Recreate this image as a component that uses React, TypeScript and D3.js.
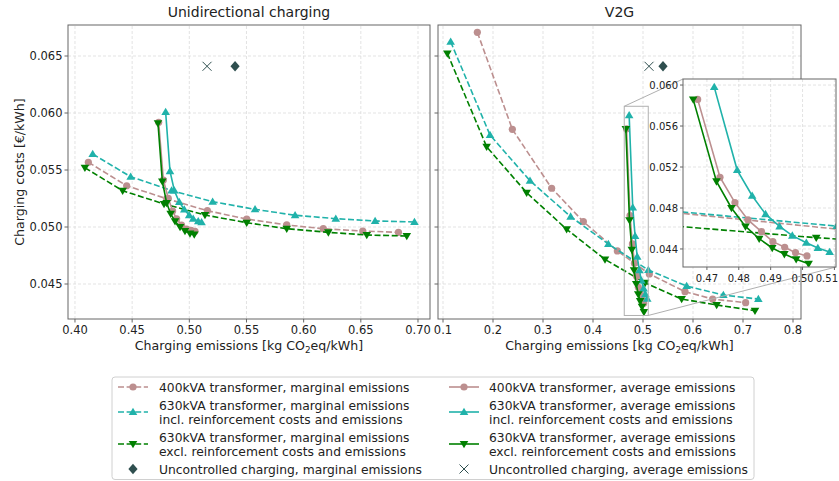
import React from "react";
import * as d3 from "d3";

const W = 839;
const H = 481;
const FONT = "'DejaVu Sans', sans-serif";

// Unidirectional charging, marginal emissions (dashed)
const uniMarg400 = [[0.4117, 0.05568], [0.4452, 0.05362], [0.4802, 0.05248], [0.5158, 0.05143], [0.5502, 0.0507], [0.5852, 0.05018], [0.6172, 0.04985], [0.6517, 0.04965], [0.6829, 0.04953]];
const uniMarg630inc = [[0.4155, 0.0564], [0.4487, 0.05441], [0.4845, 0.0532], [0.5204, 0.05222], [0.5575, 0.05155], [0.5925, 0.05103], [0.6281, 0.05073], [0.6625, 0.05053], [0.6969, 0.05044]];
const uniMarg630exc = [[0.4087, 0.0552], [0.4417, 0.05318], [0.4779, 0.05202], [0.5137, 0.05105], [0.5502, 0.05038], [0.5852, 0.04985], [0.6216, 0.04953], [0.6552, 0.0493], [0.6902, 0.04921]];
// Unidirectional charging, average emissions (solid)
const uniAvg400 = [[0.4732, 0.05918], [0.4773, 0.05412], [0.4816, 0.05252], [0.4854, 0.0514], [0.4889, 0.05072], [0.4932, 0.05016], [0.4976, 0.04982], [0.5015, 0.04971], [0.505, 0.04962]];
const uniAvg630inc = [[0.4793, 0.06008], [0.4831, 0.0549], [0.4869, 0.0532], [0.4912, 0.05219], [0.4956, 0.05153], [0.4999, 0.05104], [0.5034, 0.05073], [0.5078, 0.0505], [0.5107, 0.05041]];
const uniAvg630exc = [[0.4726, 0.0591], [0.4764, 0.054], [0.4802, 0.0521], [0.4837, 0.05117], [0.4875, 0.0505], [0.4919, 0.05], [0.4962, 0.04966], [0.5006, 0.04943], [0.5043, 0.04935]];
const uniUncMarg = [[0.54, 0.0641]];
const uniUncAvg = [[0.5155, 0.0641]];

// V2G, marginal emissions (dashed)
const v2gMarg400 = [[0.1687, 0.06708], [0.2387, 0.05857], [0.3173, 0.0534], [0.3807, 0.05047], [0.4487, 0.0479], [0.5127, 0.04588], [0.584, 0.04433], [0.6393, 0.04368], [0.7053, 0.04336]];
const v2gMarg630inc = [[0.1153, 0.06625], [0.194, 0.05807], [0.274, 0.05406], [0.3553, 0.05091], [0.4307, 0.04851], [0.5107, 0.04623], [0.5873, 0.04482], [0.6607, 0.04403], [0.7307, 0.04368]];
const v2gMarg630exc = [[0.1087, 0.06523], [0.1873, 0.05704], [0.2673, 0.05301], [0.3473, 0.0498], [0.424, 0.04716], [0.5043, 0.0451], [0.5773, 0.04368], [0.6473, 0.04316], [0.724, 0.04266]];
// V2G, average emissions (solid)
const v2gAvg400 = [[0.4671, 0.0586], [0.4741, 0.051], [0.4788, 0.04852], [0.4829, 0.04683], [0.4871, 0.04569], [0.4907, 0.04471], [0.4944, 0.04417], [0.4978, 0.04364], [0.5014, 0.04332]];
const v2gAvg630inc = [[0.4723, 0.0598], [0.4795, 0.0517], [0.4842, 0.0492], [0.4884, 0.0474], [0.4928, 0.0462], [0.4968, 0.0453], [0.5012, 0.0446], [0.5048, 0.0441], [0.5085, 0.0437]];
const v2gAvg630exc = [[0.4657, 0.0586], [0.473, 0.0506], [0.4777, 0.048], [0.4821, 0.0462], [0.4864, 0.045], [0.4905, 0.0441], [0.4943, 0.0435], [0.498, 0.043], [0.5019, 0.04255]];
const v2gUncMarg = [[0.54, 0.0641]];
const v2gUncAvg = [[0.512, 0.0641]];

const uniTicks = [0.4, 0.45, 0.5, 0.55, 0.6, 0.65, 0.7];
const v2gTicks = [0.1, 0.2, 0.3, 0.4, 0.5, 0.6, 0.7, 0.8];
const yTicks = [0.045, 0.05, 0.055, 0.06, 0.065];
const insetXTicks = [0.47, 0.48, 0.49, 0.5, 0.51];
const insetYTicks = [0.044, 0.048, 0.052, 0.056, 0.06];

const legendLabels = [
  ["400kVA transformer, marginal emissions"],
  ["630kVA transformer, marginal emissions", "incl. reinforcement costs and emissions"],
  ["630kVA transformer, marginal emissions", "excl. reinforcement costs and emissions"],
  ["Uncontrolled charging, marginal emissions"],
  ["400kVA transformer, average emissions"],
  ["630kVA transformer, average emissions", "incl. reinforcement costs and emissions"],
  ["630kVA transformer, average emissions", "excl. reinforcement costs and emissions"],
  ["Uncontrolled charging, average emissions"],
];

const PINK = "#bc8f8f";
const TEAL = "#20b2aa";
const GREEN = "#008000";
const SLATE = "#2f4f4f";

// style per legend slot
const styles = [
  { color: PINK, marker: "o", dash: true },
  { color: TEAL, marker: "^", dash: true },
  { color: GREEN, marker: "v", dash: true },
  { color: SLATE, marker: "D", none: true },
  { color: PINK, marker: "o", dash: false },
  { color: TEAL, marker: "^", dash: false },
  { color: GREEN, marker: "v", dash: false },
  { color: SLATE, marker: "x", none: true },
];

const uniSeries = [uniMarg400, uniMarg630inc, uniMarg630exc, uniUncMarg, uniAvg400, uniAvg630inc, uniAvg630exc, uniUncAvg];
const v2gSeries = [v2gMarg400, v2gMarg630inc, v2gMarg630exc, v2gUncMarg, v2gAvg400, v2gAvg630inc, v2gAvg630exc, v2gUncAvg];

const marker = (kind: string, x: number, y: number, color: string, key: any) => {
  if (kind === "o") return <circle key={key} cx={x} cy={y} r={3.6} fill={color} />;
  if (kind === "^")
    return <path key={key} d={`M${x},${y - 4.3}L${x + 4.3},${y + 3}L${x - 4.3},${y + 3}Z`} fill={color} />;
  if (kind === "v")
    return <path key={key} d={`M${x},${y + 4.3}L${x + 4.3},${y - 3}L${x - 4.3},${y - 3}Z`} fill={color} />;
  if (kind === "D")
    return <path key={key} d={`M${x},${y - 5.2}L${x + 4.6},${y}L${x},${y + 5.2}L${x - 4.6},${y}Z`} fill={color} />;
  return (
    <path key={key} d={`M${x - 4.5},${y - 4.5}L${x + 4.5},${y + 4.5}M${x - 4.5},${y + 4.5}L${x + 4.5},${y - 4.5}`}
      stroke={color} strokeWidth={1} fill="none" />
  );
};

const Series = ({ data, st, x, y }: any) => {
  const line = d3.line<any>().x(d => x(d[0])).y(d => y(d[1]));
  return (
    <g>
      {!st.none && (
        <path d={line(data) || ""} fill="none" stroke={st.color} strokeWidth={1.6}
          strokeDasharray={st.dash ? "6,2.6" : undefined} />
      )}
      {data.map((d: any, i: number) => marker(st.marker, x(d[0]), y(d[1]), st.color, i))}
    </g>
  );
};

const Grid = ({ x, y, xt, yt }: any) => {
  const [x0, x1] = x.range();
  const [y0, y1] = y.range();
  return (
    <g stroke="#dcdcdc" strokeWidth={0.8} strokeDasharray="3,2">
      {xt.map((t: number) => <line key={"x" + t} x1={x(t)} x2={x(t)} y1={y0} y2={y1} />)}
      {yt.map((t: number) => <line key={"y" + t} x1={x0} x2={x1} y1={y(t)} y2={y(t)} />)}
    </g>
  );
};

const yScale = d3.scaleLinear().domain([0.04193, 0.06772]).range([319, 25]);
const xUni = d3.scaleLinear().domain([0.3939, 0.7105]).range([68, 430]);
const xV2g = d3.scaleLinear().domain([0.09, 0.816]).range([438, 801]);
const xIn = d3.scaleLinear().domain([0.4625, 0.5105]).range([683, 836]);
const yIn = d3.scaleLinear().domain([0.04224, 0.06059]).range([267, 79]);

const XLabel = ({ cx }: { cx: number }) => (
  <text x={cx} y={350} textAnchor="middle" fontSize={12.6}>
    Charging emissions [kg CO<tspan fontSize={8.8} dy={3}>2</tspan><tspan dy={-3}>eq/kWh]</tspan>
  </text>
);

const Panel = ({ x, ticks, fmt, series, clipId, title, yLabels }: any) => {
  const [x0, x1] = x.range();
  const [yb, yt] = yScale.range();
  return (
    <g>
      <defs>
        <clipPath id={clipId}><rect x={x0} y={yt} width={x1 - x0} height={yb - yt} /></clipPath>
      </defs>
      <Grid x={x} y={yScale} xt={ticks} yt={yTicks} />
      <g clipPath={`url(#${clipId})`}>
        {series.map((s: any, i: number) => <Series key={i} data={s} st={styles[i]} x={x} y={yScale} />)}
      </g>
      <rect x={x0} y={yt} width={x1 - x0} height={yb - yt} fill="none" stroke="#666" strokeWidth={1} />
      {ticks.map((t: number) => (
        <g key={t}>
          <line x1={x(t)} x2={x(t)} y1={yb} y2={yb + 3.5} stroke="#666" />
          <text x={x(t)} y={334} textAnchor="middle" fontSize={11.5}>{fmt(t)}</text>
        </g>
      ))}
      {yTicks.map(t => (
        <g key={t}>
          <line x1={x0 - 3.5} x2={x0} y1={yScale(t)} y2={yScale(t)} stroke="#666" />
          {yLabels && <text x={x0 - 5.5} y={yScale(t) + 4} textAnchor="end" fontSize={11.5}>{d3.format(".3f")(t)}</text>}
        </g>
      ))}
      <text x={(x0 + x1) / 2} y={17} textAnchor="middle" fontSize={14}>{title}</text>
      <XLabel cx={(x0 + x1) / 2} />
    </g>
  );
};

const Inset = () => {
  const [x0, x1] = xIn.range();
  const [yb, yt] = yIn.range();
  const rx0 = xV2g(xIn.domain()[0]);
  const rx1 = xV2g(xIn.domain()[1]);
  const ry0 = yScale(yIn.domain()[1]);
  const ry1 = yScale(yIn.domain()[0]);
  return (
    <g>
      <rect x={rx0} y={ry0} width={rx1 - rx0} height={ry1 - ry0} fill="none" stroke="#b0b0b0" strokeWidth={1} />
      <line x1={rx0} y1={ry0} x2={x0} y2={yt} stroke="#b0b0b0" strokeWidth={1} />
      <line x1={rx1} y1={ry1} x2={x1} y2={yb} stroke="#b0b0b0" strokeWidth={1} />
      <defs>
        <clipPath id="clipI"><rect x={x0} y={yt} width={x1 - x0} height={yb - yt} /></clipPath>
      </defs>
      <rect x={x0} y={yt} width={x1 - x0} height={yb - yt} fill="#fff" />
      <Grid x={xIn} y={yIn} xt={insetXTicks} yt={insetYTicks} />
      <g clipPath="url(#clipI)">
        {v2gSeries.map((s: any, i: number) => <Series key={i} data={s} st={styles[i]} x={xIn} y={yIn} />)}
      </g>
      <rect x={x0} y={yt} width={x1 - x0} height={yb - yt} fill="none" stroke="#666" strokeWidth={1} />
      {insetXTicks.map((t, i) => {
        const last = i === insetXTicks.length - 1;
        return (
          <g key={t}>
            <line x1={xIn(t)} x2={xIn(t)} y1={yb} y2={yb + 3} stroke="#666" />
            <text x={last ? W - 1 : xIn(t)} y={yb + 15} textAnchor={last ? "end" : "middle"} fontSize={10}>
              {d3.format(".2f")(t)}
            </text>
          </g>
        );
      })}
      {insetYTicks.map(t => (
        <g key={t}>
          <line x1={x0 - 3} x2={x0} y1={yIn(t)} y2={yIn(t)} stroke="#666" />
          <text x={x0 - 5} y={yIn(t) + 3.6} textAnchor="end" fontSize={10}>{d3.format(".3f")(t)}</text>
        </g>
      ))}
    </g>
  );
};

const Legend = () => {
  const rowY = [387, 412, 444, 469];
  const colX = [118, 449];
  const textX = [159, 489];
  return (
    <g>
      <rect x={112} y={377} width={642} height={102.5} rx={3} fill="#fff" stroke="#d0d0d0" strokeWidth={1} />
      {legendLabels.map((lines, i) => {
        const col = Math.floor(i / 4);
        const row = i % 4;
        const st = styles[i];
        const cy = rowY[row];
        const hx = colX[col];
        return (
          <g key={i}>
            {!st.none && (
              <line x1={hx} x2={hx + 30} y1={cy} y2={cy} stroke={st.color} strokeWidth={1.6}
                strokeDasharray={st.dash ? "6,2.6" : undefined} />
            )}
            {marker(st.marker, hx + 15, cy, st.color, "m")}
            {lines.map((l, j) => (
              <text key={j} x={textX[col]} y={cy + 4.5 + (j - (lines.length - 1) / 2) * 14} fontSize={12.3}>{l}</text>
            ))}
          </g>
        );
      })}
    </g>
  );
};

export default function App() {
  return (
    <svg width={W} height={H} style={{ position: "absolute", left: 0, top: 0, background: "#fff" }}
      fontFamily={FONT} fill="#222">
      <Panel x={xUni} ticks={uniTicks} fmt={d3.format(".2f")} series={uniSeries} clipId="clipL"
        title="Unidirectional charging" yLabels={true} />
      <Panel x={xV2g} ticks={v2gTicks} fmt={d3.format(".1f")} series={v2gSeries} clipId="clipR"
        title="V2G" yLabels={false} />
      <Inset />
      <text transform="translate(24,172) rotate(-90)" textAnchor="middle" fontSize={12.6}>Charging costs [€/kWh]</text>
      <Legend />
    </svg>
  );
}
